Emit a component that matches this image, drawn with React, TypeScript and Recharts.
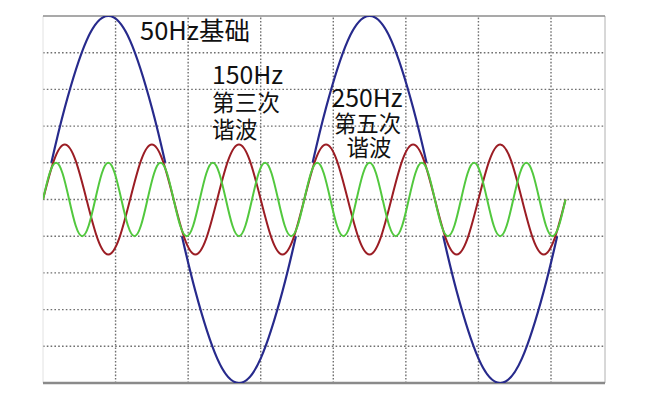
import React from "react";
import { LineChart, Line, XAxis, YAxis, ReferenceLine } from "recharts";

// time axis in grid divisions, amplitude axis in grid divisions
const xGridTicks = [1, 2, 3, 4, 5, 6, 7];
const yGridTicks = [-4, -3, -2, -1, 0, 1, 2, 3, 4];
const xDomain: [number, number] = [0, 7.744];
const yDomain: [number, number] = [-5, 5];

// 50Hz fundamental (hidden inside the central band)
const blueT = [0.115, 0.3, 0.6, 0.9, 1.2, 1.5, 1.685, 1.8, 1.915, 2.1, 2.4, 2.7, 3.0, 3.3, 3.485, 3.6, 3.715, 3.9, 4.2, 4.5, 4.8, 5.1, 5.285, 5.4, 5.515, 5.7, 6.0, 6.3, 6.6, 6.9, 7.085];
const blueV = [1, 2.5, 4.33, 5, 4.33, 2.5, 1, null, -1, -2.5, -4.33, -5, -4.33, -2.5, -1, null, 1, 2.5, 4.33, 5, 4.33, 2.5, 1, null, -1, -2.5, -4.33, -5, -4.33, -2.5, -1];

// 150Hz third harmonic
const redT = [0, 0.15, 0.3, 0.45, 0.6, 0.75, 0.9, 1.05, 1.2, 1.35, 1.5, 1.65, 1.8, 1.95, 2.1, 2.25, 2.4, 2.55, 2.7, 2.85, 3, 3.15, 3.3, 3.45, 3.6, 3.75, 3.9, 4.05, 4.2, 4.35, 4.5, 4.65, 4.8, 4.95, 5.1, 5.25, 5.4, 5.55, 5.7, 5.85, 6, 6.15, 6.3, 6.45, 6.6, 6.75, 6.9, 7.05, 7.2];
const redV = [
  0, 1.06, 1.5, 1.06, 0, -1.06, -1.5, -1.06,
  0, 1.06, 1.5, 1.06, 0, -1.06, -1.5, -1.06,
  0, 1.06, 1.5, 1.06, 0, -1.06, -1.5, -1.06,
  0, 1.06, 1.5, 1.06, 0, -1.06, -1.5, -1.06,
  0, 1.06, 1.5, 1.06, 0, -1.06, -1.5, -1.06,
  0, 1.06, 1.5, 1.06, 0, -1.06, -1.5, -1.06,
  0,
];

// 250Hz fifth harmonic
const greenT = [0, 0.09, 0.18, 0.27, 0.36, 0.45, 0.54, 0.63, 0.72, 0.81, 0.9, 0.99, 1.08, 1.17, 1.26, 1.35, 1.44, 1.53, 1.62, 1.71, 1.8, 1.89, 1.98, 2.07, 2.16, 2.25, 2.34, 2.43, 2.52, 2.61, 2.7, 2.79, 2.88, 2.97, 3.06, 3.15, 3.24, 3.33, 3.42, 3.51, 3.6, 3.69, 3.78, 3.87, 3.96, 4.05, 4.14, 4.23, 4.32, 4.41, 4.5, 4.59, 4.68, 4.77, 4.86, 4.95, 5.04, 5.13, 5.22, 5.31, 5.4, 5.49, 5.58, 5.67, 5.76, 5.85, 5.94, 6.03, 6.12, 6.21, 6.3, 6.39, 6.48, 6.57, 6.66, 6.75, 6.84, 6.93, 7.02, 7.11, 7.2];
const greenV = [
  0, 0.71, 1, 0.71, 0, -0.71, -1, -0.71,
  0, 0.71, 1, 0.71, 0, -0.71, -1, -0.71,
  0, 0.71, 1, 0.71, 0, -0.71, -1, -0.71,
  0, 0.71, 1, 0.71, 0, -0.71, -1, -0.71,
  0, 0.71, 1, 0.71, 0, -0.71, -1, -0.71,
  0, 0.71, 1, 0.71, 0, -0.71, -1, -0.71,
  0, 0.71, 1, 0.71, 0, -0.71, -1, -0.71,
  0, 0.71, 1, 0.71, 0, -0.71, -1, -0.71,
  0, 0.71, 1, 0.71, 0, -0.71, -1, -0.71,
  0, 0.71, 1, 0.71, 0, -0.71, -1, -0.71,
  0,
];

const labelFundamental = "50Hz基础";
const label3rd = ["150Hz", "第三次", "谐波"];
const label5th = ["250Hz", "第五次", "谐波"];

const blueData = blueT.map((t, i) => ({ t, v: blueV[i] }));
const redData = redT.map((t, i) => ({ t, v: redV[i] }));
const greenData = greenT.map((t, i) => ({ t, v: greenV[i] }));

const W = 637;
const H = 392;
const FONT = "'Noto Sans CJK SC', 'Noto Sans', sans-serif";

export default function App() {
  return (
    <div style={{ position: "relative", width: W, height: H, background: "#fff" }}>
      <LineChart width={W} height={H} margin={{ top: 8, right: 40, bottom: 17, left: 35 }}>
        <XAxis type="number" dataKey="t" domain={xDomain} allowDataOverflow hide />
        <YAxis type="number" dataKey="v" domain={yDomain} allowDataOverflow hide />
        {yGridTicks.map((y) => (
          <ReferenceLine key={"h" + y} y={y} stroke="#6f6f6f" strokeWidth={1.4} strokeDasharray="1.6 2.2" />
        ))}
        {xGridTicks.map((x) => (
          <ReferenceLine key={"v" + x} x={x} stroke="#6f6f6f" strokeWidth={1.4} strokeDasharray="1.6 1.8" />
        ))}
        <ReferenceLine x={xDomain[0]} stroke="#e2e2e2" strokeWidth={1} />
        <ReferenceLine x={xDomain[1]} stroke="#b0b0b0" strokeWidth={1} />
        <ReferenceLine y={yDomain[1]} stroke="#8c8c8c" strokeWidth={1.5} />
        <ReferenceLine y={yDomain[0]} stroke="#8a8a8a" strokeWidth={2.5} />
        <Line data={blueData} dataKey="v" type="natural" stroke="#272a8c" strokeWidth={2.2} dot={false} connectNulls={false} isAnimationActive={false} />
        <Line data={redData} dataKey="v" type="natural" stroke="#9b1d24" strokeWidth={2} dot={false} isAnimationActive={false} />
        <Line data={greenData} dataKey="v" type="natural" stroke="#52c83e" strokeWidth={2} dot={false} isAnimationActive={false} />
      </LineChart>
      <svg width={W} height={H} style={{ position: "absolute", left: 0, top: 0, pointerEvents: "none" }}>
        <text x={132} y={32} fontSize={25.5} fontFamily={FONT} fill="#111">{labelFundamental}</text>
        <text fontFamily={FONT} fill="#111">
          <tspan x={204} y={76} fontSize={24.8}>{label3rd[0]}</tspan>
          <tspan x={204} y={103} fontSize={22.7}>{label3rd[1]}</tspan>
          <tspan x={204} y={129.5} fontSize={22.7}>{label3rd[2]}</tspan>
        </text>
        <text fontFamily={FONT} fill="#111" textAnchor="middle">
          <tspan x={359} y={99} fontSize={24.8}>{label5th[0]}</tspan>
          <tspan x={359.5} y={123.5} fontSize={22.4}>{label5th[1]}</tspan>
          <tspan x={361} y={148} fontSize={22.4}>{label5th[2]}</tspan>
        </text>
      </svg>
    </div>
  );
}
